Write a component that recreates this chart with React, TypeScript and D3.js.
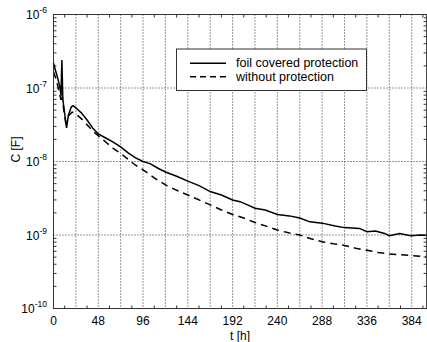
import * as d3 from "d3";

// time axis [h]
const foilTime = [0, 2, 5, 7, 8, 9, 10, 12, 14, 16, 19, 21, 24, 30, 36, 42, 48, 56, 64, 72, 80, 88, 96, 104, 112, 120, 132, 144, 156, 168, 180, 192, 200, 208, 216, 227, 240, 253, 264, 275, 288, 302, 312, 328, 336, 345, 355, 360, 371, 383, 393, 400];
// foil covered protection, C [F]
const foilC = [2.19e-7, 1.76e-7, 1.29e-7, 1.0e-7, 8.0e-8, 2.4e-7, 7.0e-8, 4.5e-8, 2.86e-8, 4.27e-8, 5.5e-8, 5.75e-8, 5.37e-8, 4.57e-8, 3.67e-8, 2.86e-8, 2.37e-8, 2.09e-8, 1.84e-8, 1.58e-8, 1.31e-8, 1.12e-8, 1.0e-8, 9.3e-9, 8.1e-9, 7.2e-9, 6.3e-9, 5.4e-9, 4.7e-9, 3.9e-9, 3.5e-9, 3.0e-9, 2.84e-9, 2.57e-9, 2.31e-9, 2.19e-9, 1.9e-9, 1.82e-9, 1.7e-9, 1.51e-9, 1.45e-9, 1.33e-9, 1.26e-9, 1.23e-9, 1.11e-9, 1.13e-9, 1.05e-9, 0.98e-9, 1.05e-9, 0.98e-9, 1.0e-9, 0.99e-9];

const bareTime = [0, 3, 6, 8, 9, 11, 13, 16, 20, 24, 30, 36, 42, 48, 56, 64, 72, 80, 88, 96, 108, 120, 132, 144, 156, 168, 180, 192, 204, 216, 228, 240, 252, 264, 276, 288, 300, 312, 324, 336, 348, 360, 372, 384, 400];
// without protection, C [F]
const bareC = [1.66e-7, 1.29e-7, 8.9e-8, 6.9e-8, 8.5e-8, 5.0e-8, 3.4e-8, 4.2e-8, 4.7e-8, 4.47e-8, 3.8e-8, 3.16e-8, 2.6e-8, 2.24e-8, 1.84e-8, 1.51e-8, 1.29e-8, 1.07e-8, 8.9e-9, 7.7e-9, 6.0e-9, 4.8e-9, 4.07e-9, 3.5e-9, 3.0e-9, 2.57e-9, 2.19e-9, 1.9e-9, 1.7e-9, 1.48e-9, 1.32e-9, 1.17e-9, 1.07e-9, 1.0e-9, 8.9e-10, 8.1e-10, 7.6e-10, 7.2e-10, 6.6e-10, 6.2e-10, 5.8e-10, 5.5e-10, 5.4e-10, 5.25e-10, 5.07e-10];

const xLabels = [0, 48, 96, 144, 192, 240, 288, 336, 384];
const decades = [-10, -9, -8, -7, -6];
const legendNames = ["foil covered protection", "without protection"];

const W = 427;
const H = 342;
const m = { left: 53.5, right: 426.6, top: 14.5, bottom: 308.5 };
const font = "Liberation Sans, Arial, sans-serif";

export default function App() {
  const x = d3.scaleLinear().domain([0, 400]).range([m.left, m.right]);
  const y = d3.scaleLog().domain([1e-10, 1e-6]).range([m.bottom, m.top]);

  const line = d3
    .line<[number, number]>()
    .x((d) => x(d[0]))
    .y((d) => y(d[1]));

  const foil = foilTime.map((t, i) => [t, foilC[i]] as [number, number]);
  const bare = bareTime.map((t, i) => [t, bareC[i]] as [number, number]);

  const gridX = d3.range(24, 400, 24);
  const minorX = d3.range(12, 400, 24);
  const minorY: number[] = [];
  decades.slice(0, -1).forEach((e) => {
    for (let k = 2; k <= 9; k++) minorY.push(k * Math.pow(10, e));
  });

  const axisColor = "#333";
  const gridColor = "#333";

  return (
    <svg
      width={W}
      height={H}
      style={{ position: "absolute", left: 0, top: 0, background: "#fff" }}
    >
      <rect x={0} y={0} width={W} height={H} fill="#fff" />

      {/* grid */}
      {gridX.map((t) => (
        <line
          key={"gx" + t}
          x1={x(t)}
          x2={x(t)}
          y1={m.top}
          y2={m.bottom}
          stroke={gridColor}
          strokeWidth={1}
          strokeDasharray="1,2"
        />
      ))}
      {decades.slice(1, -1).map((e) => (
        <line
          key={"gy" + e}
          x1={m.left}
          x2={m.right}
          y1={y(Math.pow(10, e))}
          y2={y(Math.pow(10, e))}
          stroke={gridColor}
          strokeWidth={1}
          strokeDasharray="1,2"
        />
      ))}

      {/* ticks */}
      {minorX.map((t) => (
        <g key={"mx" + t}>
          <line x1={x(t)} x2={x(t)} y1={m.bottom} y2={m.bottom - 3} stroke={axisColor} />
          <line x1={x(t)} x2={x(t)} y1={m.top} y2={m.top + 3} stroke={axisColor} />
        </g>
      ))}
      {minorY.map((v, i) => (
        <g key={"my" + i}>
          <line x1={m.left} x2={m.left + 3} y1={y(v)} y2={y(v)} stroke={axisColor} />
          <line x1={m.right} x2={m.right - 3} y1={y(v)} y2={y(v)} stroke={axisColor} />
        </g>
      ))}

      {/* data */}
      <path d={line(foil) || ""} fill="none" stroke="#000" strokeWidth={1.5} />
      <path
        d={line(bare) || ""}
        fill="none"
        stroke="#000"
        strokeWidth={1.5}
        strokeDasharray="7,5"
      />

      {/* axes frame */}
      <rect
        x={m.left}
        y={m.top}
        width={m.right - m.left}
        height={m.bottom - m.top}
        fill="none"
        stroke={axisColor}
        strokeWidth={1}
      />

      {/* x labels */}
      {xLabels.map((t) => (
        <text
          key={"xl" + t}
          x={x(t)}
          y={325}
          textAnchor="middle"
          fontFamily={font}
          fontSize={12}
          fill="#000"
        >
          {t}
        </text>
      ))}

      {/* y labels */}
      {decades.map((e) => (
        <text
          key={"yl" + e}
          x={47}
          y={y(Math.pow(10, e)) + 4.5}
          textAnchor="end"
          fontFamily={font}
          fontSize={12}
          fill="#000"
        >
          10
          <tspan dy={-6} fontSize={8.5}>
            {String(e)}
          </tspan>
        </text>
      ))}

      <text
        x={240}
        y={340}
        textAnchor="middle"
        fontFamily={font}
        fontSize={12}
        fill="#000"
      >
        t [h]
      </text>
      <text
        transform={`translate(20,${(m.top + m.bottom) / 2 - 12}) rotate(-90)`}
        textAnchor="middle"
        fontFamily={font}
        fontSize={12}
        fill="#000"
      >
        C [F]
      </text>

      {/* legend */}
      <g>
        <rect x={176.5} y={49} width={190} height={41.5} fill="#fff" stroke={axisColor} strokeWidth={1} />
        {legendNames.map((name, i) => (
          <g key={name} transform={`translate(0,${63.3 + i * 13.4})`}>
            <line
              x1={190}
              x2={226}
              y1={0}
              y2={0}
              stroke="#000"
              strokeWidth={1.5}
              strokeDasharray={i === 1 ? "6,4" : undefined}
            />
            <text x={236} y={4} fontFamily={font} fontSize={12.5} fill="#000">
              {name}
            </text>
          </g>
        ))}
      </g>
    </svg>
  );
}
